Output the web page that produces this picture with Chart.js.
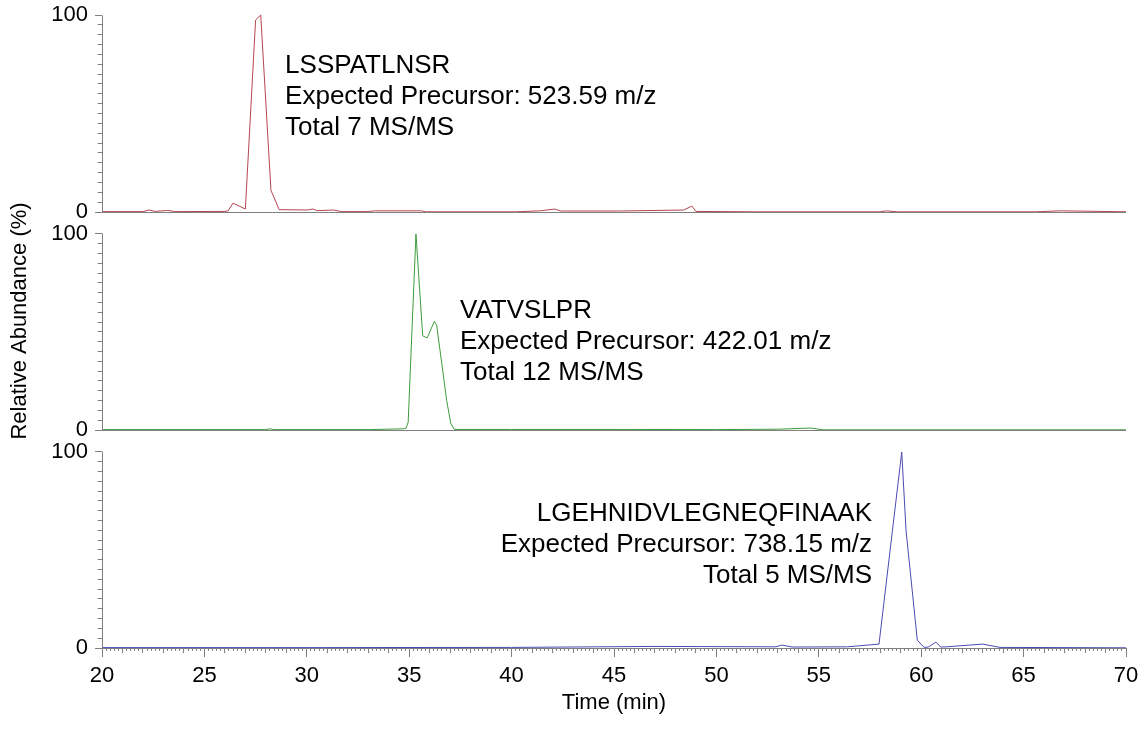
<!DOCTYPE html>
<html>
<head>
<meta charset="utf-8">
<script src="https://cdn.jsdelivr.net/npm/chart.js@4.4.1/dist/chart.umd.min.js"></script>
<style>
  html, body { margin: 0; padding: 0; background: #fff; }
  canvas { display: block; }
</style>
</head>
<body>
<canvas id="chart" width="1142" height="730"></canvas>
<script>
// x range and ticks (minutes)
const timeRange = [20, 70];
const xTickStep = 5;
const yTicks = [0, 100];

// peptide info shown in each panel
const peptideNames = ["LSSPATLNSR", "VATVSLPR", "LGEHNIDVLEGNEQFINAAK"];
const precursorMz = ["523.59", "422.01", "738.15"];
const msmsCounts = [7, 12, 5];

// trace 1 (red)
const redTime = [20, 22.0, 22.3, 22.6, 23.2, 23.6, 26.0, 26.15, 26.4, 27.0, 27.5, 27.75, 28.25, 28.65,
  30.0, 30.3, 30.5, 31.3, 31.7, 33.0, 33.3, 35.6, 35.8, 40.2, 41.4, 42.1, 42.4, 45.3,
  48.4, 48.8, 49.0, 51.8, 58.0, 58.3, 58.8, 65.6, 66.8, 68.1, 70];
const redAbund = [0.2, 0.2, 1.0, 0.3, 0.8, 0.2, 0.3, 0.5, 4.5, 1.5, 97.5, 100, 11, 1.2,
  1.0, 1.5, 0.7, 1.0, 0.2, 0.2, 0.6, 0.6, 0.1, 0.1, 0.6, 1.5, 0.5, 0.5,
  1.0, 3.0, 0.3, 0.1, 0.1, 0.6, 0.1, 0.1, 0.6, 0.4, 0.1];

// trace 2 (green)
const greenTime = [20, 28.0, 28.2, 28.4, 33.1, 34.7, 34.85, 34.95, 35.33, 35.66, 35.88, 36.23, 36.34,
  36.59, 36.83, 37.03, 37.2, 40, 45, 50, 53, 54.6, 55.2, 60, 70];
const greenAbund = [0.2, 0.2, 0.6, 0.2, 0.2, 0.6, 1.0, 4.0, 100, 48, 47, 55.5, 53.5,
  34, 15, 3.4, 0.3, 0.3, 0.3, 0.2, 0.4, 1.0, 0.1, 0.1, 0.1];

// trace 3 (blue)
const blueTime = [20, 30, 40, 47, 52.9, 53.2, 53.7, 56.4, 57.94, 59.05, 59.26, 59.81, 60.14,
  60.35, 60.72, 60.95, 61.25, 63.0, 63.85, 70];
const blueAbund = [0.2, 0.2, 0.3, 0.8, 0.6, 1.5, 0.5, 0.6, 2, 100, 60, 4, 0.3,
  0.5, 3, 0.5, 0.6, 2, 0.3, 0.1];

const axisGray = "#808080";
Chart.defaults.font.family = "'Liberation Sans', Arial, sans-serif";
Chart.defaults.color = "#000";

function toPoints(xs, ys) {
  return xs.map((x, i) => ({ x: x, y: ys[i] }));
}

function panelAxis(max, stackWeight, weight, title) {
  return {
    type: "linear",
    position: "left",
    stack: "panels",
    stackWeight: stackWeight,
    weight: weight,
    min: 0,
    max: max,
    afterBuildTicks: s => { s.ticks = yTicks.map(v => ({ value: v })); },
    afterFit: s => { s.width = 102; s.paddingTop = 0; s.paddingBottom = 0; },
    border: { display: false },
    grid: {
      color: c => (c.tick && c.tick.value === 0 ? axisGray : "rgba(0,0,0,0)"),
      tickColor: axisGray,
      tickLength: 7,
      lineWidth: 1
    },
    ticks: { font: { size: 22 }, padding: 7, autoSkip: false, color: "#000" },
    title: title
      ? { display: true, text: title, font: { size: 22 }, color: "#000", padding: { top: 7, bottom: 0 } }
      : { display: false }
  };
}

// label placement: anchor in data coords of each panel
const labelSpots = [
  { axis: "y1", t: 28.94, v: 70.8, align: "left" },
  { axis: "y2", t: 37.48, v: 57.1, align: "left" },
  { axis: "y3", t: 57.6, v: 64.6, align: "right" }
];
const labelLineGap = 31;

const alignPx = (p) => Math.round(p - 0.5) + 0.5;

const decor = {
  id: "decor",
  afterDraw(chart) {
    const ctx = chart.ctx;
    const left = alignPx(chart.chartArea.left);
    ctx.save();
    ctx.strokeStyle = axisGray;
    ctx.lineWidth = 1;
    ctx.beginPath();
    ["y1", "y2", "y3"].forEach(id => {
      const s = chart.scales[id];
      ctx.moveTo(left, alignPx(s.getPixelForValue(0)));
      ctx.lineTo(left, alignPx(s.getPixelForValue(100)));
      for (let v = 5; v < 100; v += 5) {
        const y = alignPx(s.getPixelForValue(v));
        ctx.moveTo(left - 5, y);
        ctx.lineTo(left, y);
      }
    });
    const xs = chart.scales.x;
    const base = Math.round(xs.top);
    const steps = Math.round((timeRange[1] - timeRange[0]) / 0.2);
    for (let k = 0; k <= steps; k++) {
      if (k % 25 === 0) continue;
      const x = alignPx(xs.getPixelForValue(timeRange[0] + k * 0.2));
      const len = k % 5 === 0 ? 5 : 3;
      ctx.moveTo(x, base);
      ctx.lineTo(x, base + len);
    }
    ctx.stroke();

    ctx.fillStyle = "#000";
    ctx.font = "26px 'Liberation Sans', Arial, sans-serif";
    ctx.textBaseline = "alphabetic";
    labelSpots.forEach((spot, i) => {
      const lines = [peptideNames[i], "Expected Precursor: " + precursorMz[i] + " m/z", "Total " + msmsCounts[i] + " MS/MS"];
      const x = chart.scales.x.getPixelForValue(spot.t);
      const y = chart.scales[spot.axis].getPixelForValue(spot.v);
      ctx.textAlign = spot.align;
      lines.forEach((line, j) => ctx.fillText(line, x, y + j * labelLineGap));
    });
    ctx.restore();
  }
};

new Chart(document.getElementById("chart"), {
  type: "line",
  data: {
    datasets: [
      { data: toPoints(redTime, redAbund), yAxisID: "y1", borderColor: "#b4464f" },
      { data: toPoints(greenTime, greenAbund), yAxisID: "y2", borderColor: "#3c9c3c" },
      { data: toPoints(blueTime, blueAbund), yAxisID: "y3", borderColor: "#4a4ab2" }
    ]
  },
  options: {
    responsive: false,
    animation: false,
    parsing: false,
    layout: { padding: { top: 6, right: 16, bottom: 0, left: 0 } },
    elements: {
      line: { borderWidth: 1, tension: 0, fill: false },
      point: { radius: 0 }
    },
    plugins: { legend: { display: false }, tooltip: { enabled: false } },
    scales: {
      x: {
        type: "linear",
        min: timeRange[0],
        max: timeRange[1],
        afterFit: s => { s.height = 82; s.paddingLeft = 0; s.paddingRight = 0; },
        border: { color: axisGray },
        grid: { drawOnChartArea: false, tickColor: axisGray, tickLength: 9 },
        ticks: { stepSize: xTickStep, font: { size: 22 }, padding: 6, color: "#000", maxRotation: 0 },
        title: { display: true, text: "Time (min)", font: { size: 22 }, color: "#000", padding: { top: 0, bottom: 14 } }
      },
      y1: panelAxis(104.6, 206, 3, null),
      y2: panelAxis(111.2, 218, 2, "Relative Abundance (%)"),
      y3: panelAxis(111.2, 218, 1, null)
    }
  },
  plugins: [decor]
});
</script>
</body>
</html>
